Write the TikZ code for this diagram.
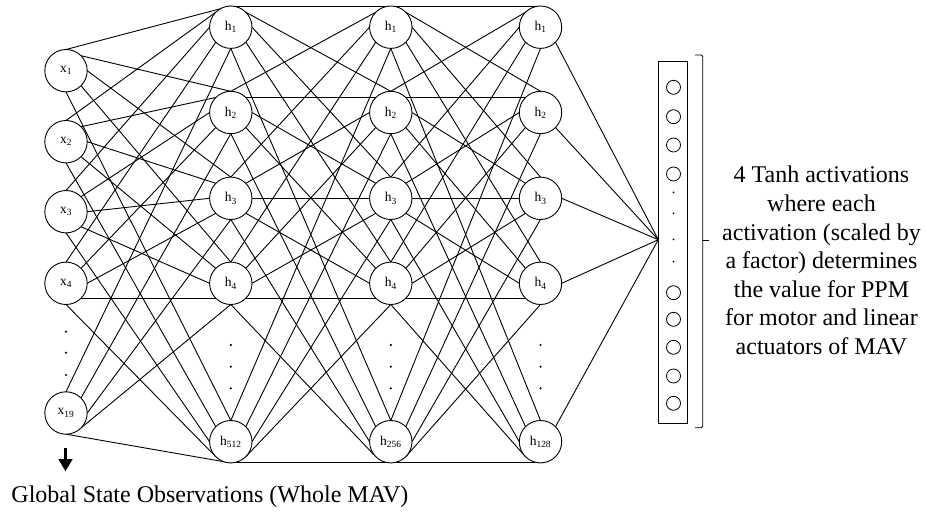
\documentclass[tikz,border=0pt]{standalone}
\usepackage{fontspec}
\setmainfont{Liberation Serif}
\usetikzlibrary{backgrounds,arrows.meta}
\begin{document}
\begin{tikzpicture}[x=1pt,y=-1pt,
  neuron/.style={circle,draw,fill=white,line width=0.9pt,minimum size=42.4pt,
    inner sep=0pt,outer sep=0pt,font=\fontsize{13.5}{15}\selectfont},
  link/.style={line width=0.9pt},
  outunit/.style={circle,draw,line width=0.8pt,minimum size=14pt,inner sep=0pt},
  vdot/.style={circle,fill,inner sep=0pt,minimum size=2.4pt},
  bigtext/.style={font=\fontsize{24}{28.6}\selectfont},
]
\useasboundingbox (0,0) rectangle (927,513);

% input layer
\foreach \i/\y/\t in {1/70.7/1,2/141.7/2,3/211.7/3,4/283.3/4,5/413/19}
  \node[neuron] (in\i) at (66,\y) {x\textsubscript{\t}};

% hidden layers
\foreach \i/\y/\t in {1/27.2/1,2/112.5/2,3/198.3/3,4/283.3/4,5/441.7/512}
  \node[neuron] (a\i) at (230.8,\y) {h\textsubscript{\t}};
\foreach \i/\y/\t in {1/27.2/1,2/112.5/2,3/198.3/3,4/283.3/4,5/441.7/256}
  \node[neuron] (b\i) at (390.8,\y) {h\textsubscript{\t}};
\foreach \i/\y/\t in {1/27.2/1,2/112.5/2,3/198.3/3,4/283.3/4,5/441.7/128}
  \node[neuron] (c\i) at (540.5,\y) {h\textsubscript{\t}};

% vertical ellipsis dots
\foreach \y [count=\k] in {331.7,352.7,375}
  \node[vdot] (indot\k) at (66,\y) {};
\foreach \col/\x in {a/230.8,b/390.8,c/540.5}
  \foreach \y [count=\k] in {345,366.7,388.3}
    \node[vdot] (\col dot\k) at (\x,\y) {};

% output layer box
\node[draw,line width=0.9pt,minimum width=29pt,minimum height=362.3pt,
      inner sep=0pt,outer sep=0pt] (outbox) at (672.8,242.2) {};
\coordinate (outpt) at (658.3,239.7);
\foreach \y [count=\k] in {87.3,116.7,145,174,292.7,319.3,347.3,376,403.3}
  \node[outunit] (o\k) at (673.5,\y) {};
\foreach \y [count=\k] in {192.3,213.3,239.3,261.7}
  \node[vdot,minimum size=2pt] (odot\k) at (673.5,\y) {};

% fully connected links between consecutive layers
\begin{scope}[on background layer]
\foreach \A/\B in {in/a,a/b,b/c}
  \foreach \i/\ta in {1/north,2/north west,3/west,4/south west,5/south}
    \foreach \j/\sa in {1/north,2/north east,3/east,4/south east,5/south}
      \draw[link] (\A\i.\sa) -- (\B\j.\ta);
\foreach \n/\sa in {1/south east,2/south east,3/east,4/east,5/north east}
  \draw[link] (c\n.\sa) -- (outpt);
\end{scope}

% bracket next to the output layer
\coordinate (brtop) at (695,55);
\coordinate (brbot) at (695,427.7);
\coordinate (brmid) at (702.7,240.5);
\coordinate (brtick) at (709,240.5);
\draw[line width=0.9pt,rounded corners=1.5pt]
  (brtop) -- (702.7,55) -- (702.7,427.7) -- (brbot);
\draw[line width=0.9pt] (brmid) -- (brtick);

\node[bigtext,align=center,inner sep=0pt] (desc) at (821.5,260.5)
  {4 Tanh activations\\where each\\activation (scaled by\\a factor) determines\\the value for PPM\\for motor and linear\\actuators of MAV};

% input caption with arrow
\coordinate (arrtop) at (65.5,448);
\coordinate (arrtip) at (65.5,471.5);
\draw[line width=3.3pt,-{Triangle[width=13.5pt,length=12.5pt]}] (arrtop) -- (arrtip);
\node[bigtext,anchor=base west,inner sep=0pt] (caption) at (11.3,502.7)
  {Global State Observations (Whole MAV)};
\end{tikzpicture}
\end{document}
